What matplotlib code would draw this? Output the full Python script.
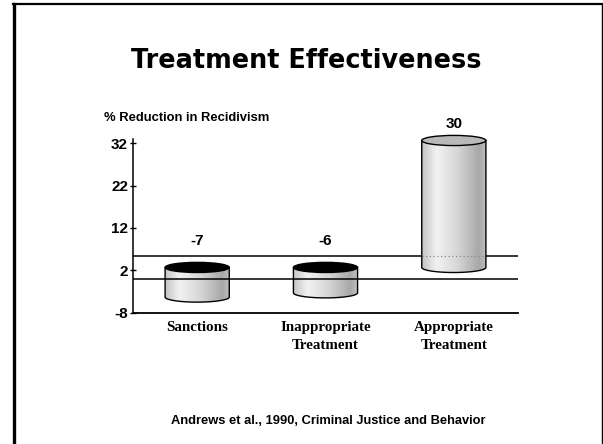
import numpy as np
import matplotlib

matplotlib.use('Agg')
import matplotlib.pyplot as plt
from matplotlib.path import Path
from matplotlib.patches import Ellipse, PathPatch
from matplotlib.colors import LinearSegmentedColormap
from matplotlib.lines import Line2D

# data
categories = ['Sanctions', 'Inappropriate\nTreatment', 'Appropriate\nTreatment']
values = [-7, -6, 30]
yticks = [-8, 2, 12, 22, 32]

title = 'Treatment Effectiveness'
ylabel = '% Reduction in Recidivism'
source = 'Andrews et al., 1990, Criminal Justice and Behavior'

# pseudo 3d look
depth = 2.65      # shift of the cylinder axis (mid depth) in value units
back = 2 * depth  # back wall floor line
bar_w = 0.5
ell_h = 2.4

cyl_cmap = LinearSegmentedColormap.from_list(
    'cyl', [(0.0, '#c4c4c4'), (0.22, '#f2f2f2'), (0.55, '#d6d6d6'),
            (0.88, '#a8a8a8'), (1.0, '#c0c0c0')])

fig = plt.figure(figsize=(6.03, 4.44), dpi=100)
ax = fig.add_axes([133 / 603, 1 - 312.5 / 444, 385 / 603, 173.5 / 444])


def draw_cylinder(ax, x, v):
    x0, x1 = x - bar_w / 2, x + bar_w / 2
    ybot = depth + min(v, 0)
    ytop = depth + max(v, 0)
    t = np.linspace(np.pi, 2 * np.pi, 60)
    arc = np.column_stack([x + bar_w / 2 * np.cos(t), ybot + ell_h / 2 * np.sin(t)])
    verts = np.vstack([[x0, ytop], arc, [x1, ytop], [x0, ytop]])
    body = Path(verts, closed=True)

    grad = cyl_cmap(np.linspace(0, 1, 200))[None, :, :]
    im = ax.imshow(grad, extent=[x0, x1, ybot - ell_h, ytop], aspect='auto',
                   interpolation='bilinear', zorder=3)
    outline = PathPatch(body, facecolor='none', edgecolor='black', lw=1.0,
                        zorder=4, clip_on=False)
    ax.add_patch(outline)
    im.set_clip_path(outline)
    im.set_clip_box(None)

    # back line shows faintly through the cylinder
    ln = ax.axhline(back, color='#8a8a8a', lw=0.9, ls=(0, (1, 2)), zorder=3.5)
    ln.set_clip_path(outline)

    top_color = 'black' if v < 0 else '#b9b9b9'
    ax.add_patch(Ellipse((x, ytop), bar_w, ell_h, facecolor=top_color,
                         edgecolor='black', lw=1.0, zorder=5, clip_on=False))
    off = 6.2 if v < 0 else 4.0
    ax.text(x, ytop + off, f'{v}', ha='center', va='center', fontsize=11,
            fontweight='bold', family='Liberation Sans', zorder=6)


xs = np.arange(len(categories))
ax.axhline(back, color='black', lw=1.1, zorder=2)
for x, v in zip(xs, values):
    draw_cylinder(ax, x, v)
ax.axhline(0, color='black', lw=1.1, zorder=7)

ax.set_xlim(-0.5, len(categories) - 0.5)
ax.set_ylim(-8, 33)
ax.set_yticks(yticks)
ax.set_yticklabels([str(t) for t in yticks], fontsize=11, fontweight='bold',
                   family='Liberation Sans')
ax.set_xticks(xs)
ax.set_xticklabels(categories, fontsize=10.8, fontweight='bold', family='Liberation Serif',
                   linespacing=1.5)
ax.tick_params(axis='x', length=0, pad=6)
ax.tick_params(axis='y', direction='inout', length=5, width=1.0, pad=1)
for s in ['top', 'right']:
    ax.spines[s].set_visible(False)
ax.spines['left'].set_linewidth(1.1)
ax.spines['bottom'].set_linewidth(1.3)

fig.text(186.5 / 603, 1 - 118 / 444, ylabel, ha='center', va='center', fontsize=9.4,
         fontweight='bold', family='Liberation Sans')
fig.text(306 / 603, 1 - 61 / 444, title, ha='center', va='center', fontsize=18.4,
         fontweight='bold', family='DejaVu Sans')
fig.text(328 / 603, 1 - 421 / 444, source, ha='center', va='center', fontsize=9.3,
         fontweight='bold', family='Liberation Sans')

# slide frame
fig.add_artist(Line2D([14 / 603, 14 / 603], [0, 1 - 4 / 444], color='black', lw=2.4))
fig.add_artist(Line2D([13 / 603, 601.5 / 603], [1 - 4 / 444, 1 - 4 / 444], color='black', lw=1.6))
fig.add_artist(Line2D([601.5 / 603, 601.5 / 603], [0, 1 - 4 / 444], color='black', lw=1.0))

fig.savefig('out.png', dpi=100)
